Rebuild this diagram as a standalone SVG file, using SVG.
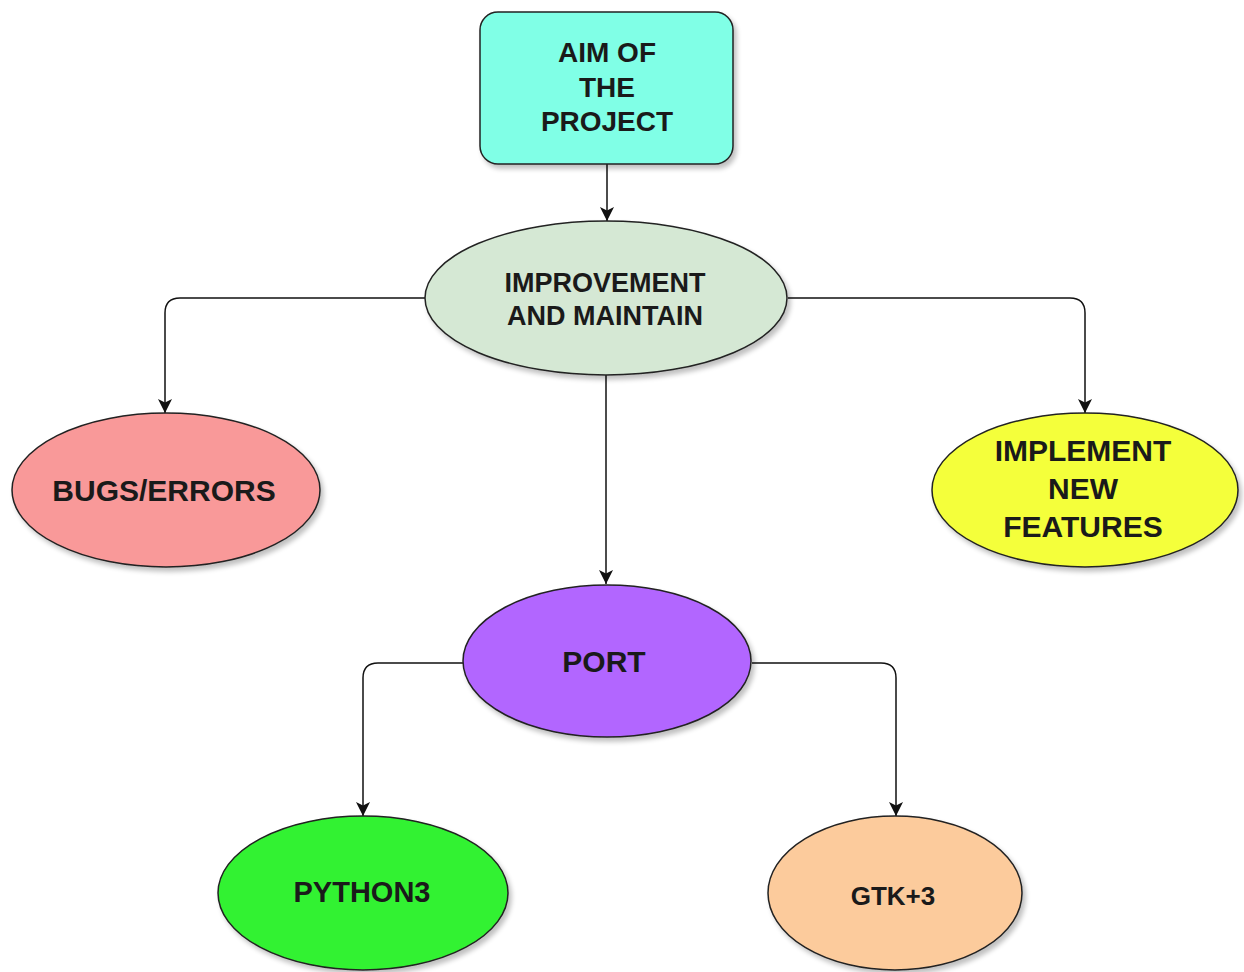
<svg xmlns="http://www.w3.org/2000/svg" width="1244" height="972" viewBox="0 0 1244 972">
  <defs>
    <filter id="shadow" x="-10%" y="-10%" width="125%" height="130%">
      <feGaussianBlur in="SourceAlpha" stdDeviation="2.5"/>
      <feOffset dx="3" dy="4" result="b"/>
      <feComponentTransfer><feFuncA type="linear" slope="0.25"/></feComponentTransfer>
      <feMerge><feMergeNode/><feMergeNode in="SourceGraphic"/></feMerge>
    </filter>
    <marker id="arrow" viewBox="0 0 12 12" refX="12" refY="6" markerWidth="14" markerHeight="14" markerUnits="userSpaceOnUse" orient="auto">
      <path d="M0,0 L12,6 L0,12 L3,6 z" fill="#111"/>
    </marker>
  </defs>
  <style>
    .node { stroke: #222; stroke-width: 1.5; filter: url(#shadow); }
    .lbl { font-family: "Liberation Sans", Arial, sans-serif; font-weight: bold; fill: #1a1a1a; text-anchor: middle; }
    .edge { fill: none; stroke: #111; stroke-width: 1.5; marker-end: url(#arrow); }
  </style>
  <rect width="1244" height="972" fill="#ffffff"/>

  <g id="connectors">
    <path class="edge" d="M607,130 V221"/>
    <path class="edge" d="M425,298 H180 Q165,298 165,313 V413"/>
    <path class="edge" d="M788,298 H1070 Q1085,298 1085,313 V413"/>
    <path class="edge" d="M606,375 V584"/>
    <path class="edge" d="M463,663 H378 Q363,663 363,678 V816"/>
    <path class="edge" d="M752,663 H881 Q896,663 896,678 V816"/>
  </g>

  <g id="aim">
    <rect class="node" x="480" y="12" width="253" height="152" rx="18" ry="18" fill="#80ffe6"/>
    <text class="lbl" font-size="28" x="607" y="62">AIM OF</text>
    <text class="lbl" font-size="28" x="607" y="97">THE</text>
    <text class="lbl" font-size="28" x="607" y="131">PROJECT</text>
  </g>

  <g id="improvement">
    <ellipse class="node" cx="606" cy="298" rx="181" ry="77" fill="#d5e8d4"/>
    <text class="lbl" font-size="27" x="605" y="292">IMPROVEMENT</text>
    <text class="lbl" font-size="27" x="605" y="325">AND MAINTAIN</text>
  </g>

  <g id="bugs">
    <ellipse class="node" cx="166" cy="490" rx="154" ry="77" fill="#f99999"/>
    <text class="lbl" font-size="30" x="164" y="501">BUGS/ERRORS</text>
  </g>

  <g id="implement">
    <ellipse class="node" cx="1085" cy="490" rx="153" ry="77" fill="#f4ff3a"/>
    <text class="lbl" font-size="30" x="1083" y="461">IMPLEMENT</text>
    <text class="lbl" font-size="30" x="1083" y="499">NEW</text>
    <text class="lbl" font-size="30" x="1083" y="537">FEATURES</text>
  </g>

  <g id="port">
    <ellipse class="node" cx="607" cy="661" rx="144" ry="76" fill="#b266ff"/>
    <text class="lbl" font-size="30" x="604" y="672">PORT</text>
  </g>

  <g id="python3">
    <ellipse class="node" cx="363" cy="893" rx="145" ry="77" fill="#33f233"/>
    <text class="lbl" font-size="29" x="362" y="902">PYTHON3</text>
  </g>

  <g id="gtk3">
    <ellipse class="node" cx="895" cy="893" rx="127" ry="77" fill="#fccb9c"/>
    <text class="lbl" font-size="26" x="893" y="905">GTK+3</text>
  </g>
</svg>
